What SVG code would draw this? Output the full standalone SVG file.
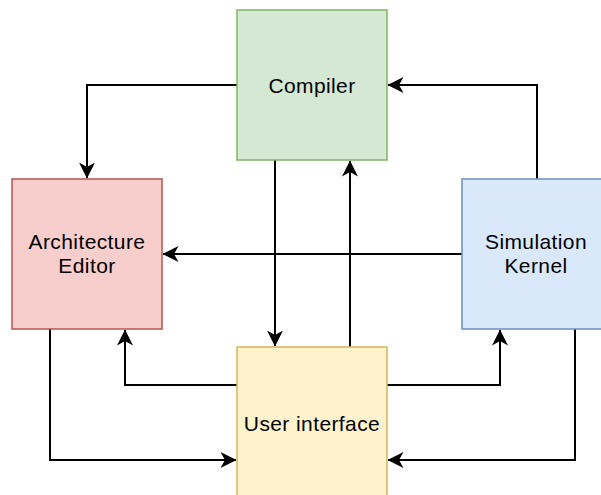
<svg xmlns="http://www.w3.org/2000/svg" width="601" height="495" viewBox="0 0 601 495">
  <style>
    .box { stroke-width: 1.5; }
    .label { font-family: "Liberation Sans", Arial, Helvetica, sans-serif; font-size: 21px; letter-spacing: 0.4px; fill: #000; text-anchor: middle; }
    .edge { fill: none; stroke: #000; stroke-width: 2; marker-end: url(#arrow); }
  </style>
  <defs>
    <!-- classic notched arrowhead, tip at the path end -->
    <marker id="arrow" markerUnits="userSpaceOnUse" viewBox="0 0 16 16" markerWidth="16" markerHeight="16" refX="15.5" refY="8" orient="auto">
      <path d="M16,8 L0,0 L4.5,8 L0,16 Z" fill="#000"/>
    </marker>
  </defs>
  <rect width="601" height="495" fill="#fff"/>

  <g id="connectors">
    <!-- Compiler -> Architecture Editor -->
    <path class="edge" d="M237,85 H87 V178"/>
    <!-- Simulation Kernel -> Compiler -->
    <path class="edge" d="M537,179 V85 H388"/>
    <!-- Compiler -> User interface -->
    <path class="edge" d="M275,160 V346"/>
    <!-- User interface -> Compiler -->
    <path class="edge" d="M350,347 V161"/>
    <!-- Simulation Kernel -> Architecture Editor -->
    <path class="edge" d="M462,254 H163"/>
    <!-- User interface -> Architecture Editor -->
    <path class="edge" d="M237,385 H125 V330"/>
    <!-- User interface -> Simulation Kernel -->
    <path class="edge" d="M387,385 H500 V330"/>
    <!-- Architecture Editor -> User interface -->
    <path class="edge" d="M50,329 V460 H236"/>
    <!-- Simulation Kernel -> User interface -->
    <path class="edge" d="M575,329 V460 H388"/>
  </g>

  <g id="compiler">
    <rect class="box" x="237" y="10" width="150" height="150" fill="#d5e8d4" stroke="#82b366"/>
    <text class="label" x="312" y="93">Compiler</text>
  </g>

  <g id="architecture-editor">
    <rect class="box" x="12" y="179" width="150" height="150" fill="#f8cecc" stroke="#b85450"/>
    <text class="label" x="87" y="249">Architecture</text>
    <text class="label" x="87" y="273">Editor</text>
  </g>

  <g id="simulation-kernel">
    <rect class="box" x="462" y="179" width="150" height="150" fill="#dae8fc" stroke="#6c8ebf"/>
    <text class="label" x="536" y="249">Simulation</text>
    <text class="label" x="536" y="273">Kernel</text>
  </g>

  <g id="user-interface">
    <rect class="box" x="237" y="347" width="150" height="150" fill="#fff2cc" stroke="#d6b656"/>
    <text class="label" x="312" y="431">User interface</text>
  </g>
</svg>
